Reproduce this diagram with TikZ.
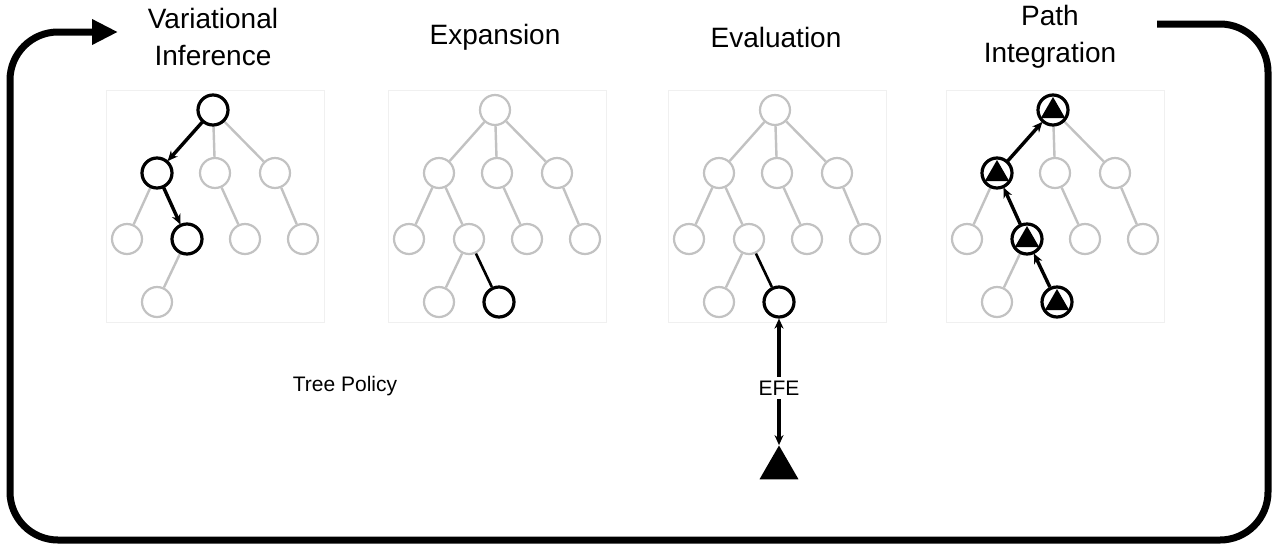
\documentclass[tikz,border=0pt]{standalone}
\usepackage{fontspec}
\setmainfont{Liberation Sans}
\usetikzlibrary{positioning, arrows.meta, shapes.geometric}

\definecolor{twig}{gray}{0.76}

\tikzset{
  vtx/.style={circle, draw=twig, line width=2.2pt, fill=white, minimum size=30pt, inner sep=0pt},
  hot/.style={vtx, draw=black, line width=3.2pt},
  branch/.style={draw=twig, line width=2.4pt},
  hotline/.style={draw=black, line width=2.6pt},
  hotarrow/.style={draw=black, line width=3.4pt, -{Stealth[length=10pt,width=9pt]}},
  efetri/.style={regular polygon, regular polygon sides=3, fill=black, inner sep=0pt, minimum size=28pt},
  goaltri/.style={efetri, minimum size=45pt},
  title/.style={font=\fontsize{28}{37}\selectfont, align=center},
  lbl/.style={font=\fontsize{21}{25}\selectfont, inner sep=4pt},
  loopline/.style={line width=7pt, rounded corners=48pt, -{Triangle[length=26pt,width=24pt]}}
}

\begin{document}
\begin{tikzpicture}[x=1pt, y=-1pt, on grid]
  \useasboundingbox (0,0) rectangle (1280,547);

  \foreach \t/\cx in {a/213, b/495, c/775, d/1053}{
    \begin{scope}[shift={(\cx,110)}, name prefix=\t-]
      \draw[black!6] (-107,-20) rectangle (111,212);
      \node[vtx] (r)  at (0,0)     {};
      \node[vtx] (n1) at (-56,63)  {};
      \node[vtx] (n2) at (2,63)    {};
      \node[vtx] (n3) at (62,63)   {};
      \node[vtx] (m1) at (-86,129) {};
      \node[vtx] (m2) at (-26,129) {};
      \node[vtx] (m3) at (32,129)  {};
      \node[vtx] (m4) at (90,129)  {};
      \node[vtx] (k1) at (-56,192) {};
      \foreach \p/\q in {r/n1, r/n2, r/n3, n1/m1, n1/m2, n2/m3, n3/m4, m2/k1}
        \path[branch] (\p) -- (\q);
    \end{scope}
  }

  \foreach \t in {b, c, d}
    \node[hot] (\t-k2) [below right=63pt and 30pt of \t-m2] {};
  \foreach \t in {b, c}
    \path[hotline] (\t-m2) -- (\t-k2);

  \foreach \n in {a-r, a-n1, a-m2, d-r, d-n1, d-m2}
    \node[hot] (\n-hi) at (\n) {};
  \foreach \p/\q in {a-r/a-n1, a-n1/a-m2, d-k2/d-m2, d-m2/d-n1, d-n1/d-r}
    \draw[hotarrow] (\p) -- (\q);
  \foreach \n in {d-r, d-n1, d-m2, d-k2}
    \node[efetri] (\n-tri) at ([yshift=-1pt]\n) {};

  \node[lbl] (efe) [below=86pt of c-k2] {EFE};
  \node[goaltri] (goal) [below=80pt of efe] {};
  \draw[hotarrow] (efe) -- (c-k2);
  \draw[hotarrow] (efe) -- (goal);

  \node[title] (vi)  at (213,37)  {Variational\\Inference};
  \node[title] (exp) at (495,37)  {Expansion};
  \node[title] (ev)  at (776,37)  {Evaluation};
  \node[title] (pi)  at (1050,37) {Path\\Integration};
  \node[lbl]   (tp)  at (345,386) {Tree Policy};

  \coordinate (back)  at (1157,24);
  \coordinate (start) at (118,32);
  \draw[loopline] (back) -| (1268,540) -| (10,32) -- (start);
\end{tikzpicture}
\end{document}
